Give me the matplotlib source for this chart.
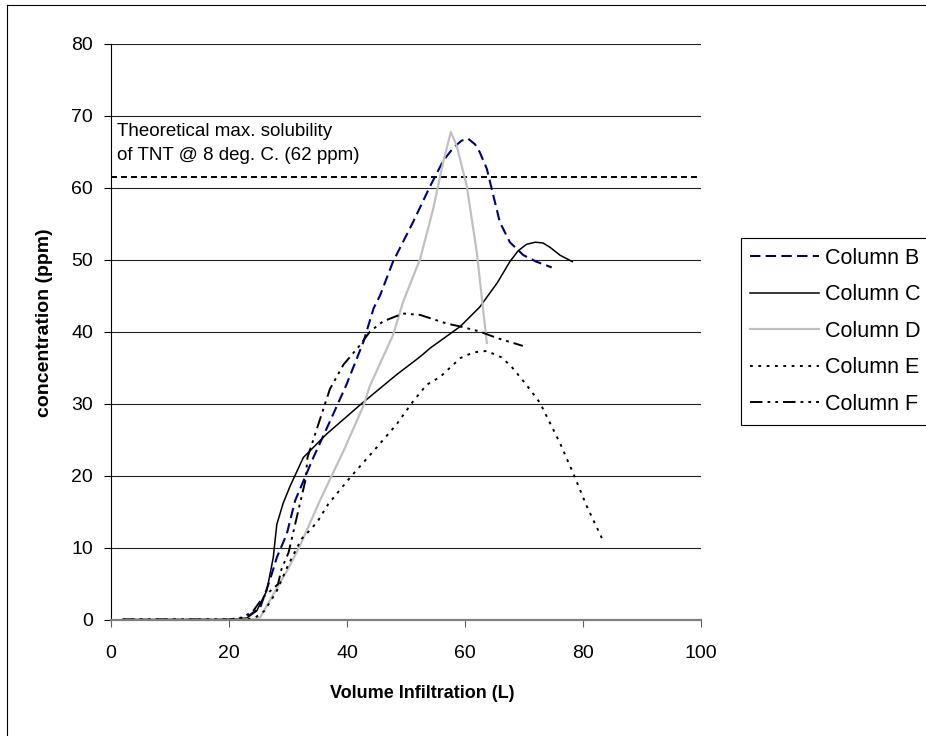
import matplotlib
matplotlib.use("Agg")
import matplotlib.pyplot as plt
from matplotlib.lines import Line2D
from matplotlib.patches import Rectangle

plt.rcParams['font.family'] = ['Liberation Sans', 'DejaVu Sans']
plt.rcParams['lines.scale_dashes'] = False

# ---------------- data ----------------
b_x = [2, 6, 10, 15, 20, 22, 23, 25.3, 26.9, 28.1, 29.8, 31.2, 34.3, 37.1, 39.9, 42.8, 44.5,
       45.6, 47.8, 51.2, 54.1, 56.3, 58.0, 59.4, 60.5, 61.7, 62.5, 63.7, 64.8, 65.9, 67.6,
       69.9, 72.1, 74.7]
b_y = [0, 0, 0, 0, 0, 0.1, 0.3, 1.7, 5.4, 8.6, 11.9, 16.5, 22.5, 27.5, 32.6, 38.6, 43.2,
       45.0, 49.7, 55.2, 60.2, 63.7, 65.5, 66.5, 66.8, 66.0, 64.9, 62.6, 58.9, 55.2, 52.4,
       50.6, 49.7, 48.9]

c_x = [2, 10, 20, 23, 24.7, 26.4, 27.5, 28.1, 29.2, 30.4, 32.6, 36.6, 42.5, 48.4, 52.4,
       54.1, 59.2, 62.5, 65.5, 67.6, 69.0, 70.4, 71.9, 73.2, 74.4, 76.1, 78.2]
c_y = [0, 0, 0, 0.2, 1.2, 4.0, 8.6, 13.2, 16.2, 18.6, 22.5, 25.8, 30.0, 34.0, 36.5,
       37.7, 40.7, 43.4, 46.8, 49.7, 51.2, 52.1, 52.4, 52.3, 51.7, 50.6, 49.7]

d_x = [2, 10, 20, 24, 25.3, 27.5, 30, 32, 35.4, 39.4, 42.8, 43.9, 47.8, 49.5, 52.4, 54.6,
       56.3, 57.6, 58.6, 60.3, 62.0, 63.7]
d_y = [0, 0, 0, 0, 0.3, 3.5, 7.0, 10.2, 16.5, 23.4, 29.7, 32.5, 39.5, 44.1, 50.1, 57.0,
       63.5, 67.7, 65.8, 60.2, 51.0, 38.4]

e_x = [2, 10, 20, 23, 24.5, 26, 28, 30, 32.3, 33.6, 35.0, 36.8, 38.2, 40.5, 44.5, 48.4,
       51.2, 53.5, 55.8, 59.2, 61.4, 63.7, 66.2, 67.9, 70.4, 72.7, 74.4, 76.1, 78.4, 80.6, 83.2]
e_y = [0, 0, 0, 0, 0.3, 1.2, 3.8, 7.5, 11.2, 12.3, 13.6, 16.0, 17.4, 19.7, 23.4, 27.1,
       30.3, 32.6, 33.7, 36.3, 37.1, 37.3, 36.4, 35.1, 32.6, 30.1, 27.3, 24.5, 20.2, 15.8, 11.3]

f_x = [2, 10, 20, 22.4, 24.1, 25.8, 28.3, 28.9, 30.1, 31.2, 32.0, 33.0, 33.3, 35.1, 37.1,
       39.4, 42.2, 43.9, 46.1, 49.5, 52.4, 56.9, 59.2, 62.5, 65.4, 69.8]
f_y = [0, 0, 0, 0.3, 1.2, 3.1, 4.9, 7.0, 9.3, 13.2, 16.0, 19.5, 22.5, 27.0, 32.0,
       35.4, 38.1, 40.0, 41.4, 42.5, 42.3, 41.1, 40.7, 40.0, 39.1, 38.0]

series_labels = ['Column B', 'Column C', 'Column D', 'Column E', 'Column F']
solubility_ppm = 61.4
solubility_text = 'Theoretical max. solubility\nof TNT @ 8 deg. C. (62 ppm)'
x_ticks = [0, 20, 40, 60, 80, 100]
y_ticks = [0, 10, 20, 30, 40, 50, 60, 70, 80]

# ---------------- figure ----------------
W, H = 926, 736
fig = plt.figure(figsize=(W / 100, H / 100), dpi=100)
ax = fig.add_axes([111 / W, 1 - 619.5 / H, 590 / W, 576 / H])
ax.set_xlim(0, 100)
ax.set_ylim(0, 80)

for yv in y_ticks[1:]:
    ax.axhline(yv, color='#222222', lw=0.8, zorder=1)

ax.axhline(solubility_ppm, color='black', lw=1.4, ls=(0, (4.3, 2.9)), zorder=2)

styles = [
    dict(color='#000080', lw=1.5, ls=(0, (7.5, 3.8))),
    dict(color='black', lw=1.1, ls='-'),
    dict(color='#C0C0C0', lw=1.6, ls='-'),
    dict(color='black', lw=1.4, ls=(0, (2.0, 4.0))),
    dict(color='black', lw=1.4, ls=(0, (9.0, 3.6, 2.0, 3.6, 2.0, 3.6))),
]
data = [(b_x, b_y), (c_x, c_y), (d_x, d_y), (e_x, e_y), (f_x, f_y)]
handles = []
for (xs, ys), st, lab in zip(data, styles, series_labels):
    ln, = ax.plot(xs, ys, label=lab, zorder=3, **st)
    handles.append(ln)

ax.text(1.0, 66.1, solubility_text, fontsize=13.5, va='center', ha='left',
        linespacing=1.5, zorder=4)

ax.spines['top'].set_visible(False)
ax.spines['right'].set_visible(False)
ax.spines['left'].set_color('black')
ax.spines['left'].set_linewidth(0.8)
ax.spines['bottom'].set_color('#808080')
ax.spines['bottom'].set_linewidth(1.6)
ax.spines['bottom'].set_zorder(5)

ax.set_xticks(x_ticks)
ax.set_yticks(y_ticks)
ax.tick_params(axis='y', direction='out', length=5, width=0.8, pad=8, labelsize=14, color='black')
ax.tick_params(axis='x', direction='out', length=5, width=0.8, pad=13, labelsize=14, color='#606060')

ax.set_xlabel('Volume Infiltration (L)', fontsize=13, fontweight='bold', labelpad=18)
ax.xaxis.set_label_coords((422 - 111) / 590, -(693 - 619.5) / 576, transform=ax.transAxes)
ax.set_ylabel('concentration (ppm)', fontsize=14, fontweight='bold')
ax.yaxis.set_label_coords(-(111 - 45) / 590, (619.5 - 323) / 576, transform=ax.transAxes)
ax.xaxis.label.set_va('center')
ax.yaxis.label.set_va('center')

# legend box (clipped by right edge of figure as in reference)
fig.add_artist(Rectangle((741 / W, 1 - 425 / H), (1000 - 741) / W, (425 - 238) / H,
                         transform=fig.transFigure, facecolor='white', edgecolor='black',
                         lw=0.8, zorder=5))
leg = fig.legend(handles=handles, loc='upper left', bbox_to_anchor=(750 / W, 1 - 248 / H),
                 bbox_transform=fig.transFigure, frameon=False, borderpad=0,
                 borderaxespad=0, fontsize=15.5, handlelength=3.2, handletextpad=0.28,
                 labelspacing=0.72)
leg.set_zorder(6)

# outer chart border (left and top edges visible)
fig.add_artist(Line2D([7 / W, 7 / W], [0, 1 - 5 / H], transform=fig.transFigure,
                      color='black', lw=0.8))
fig.add_artist(Line2D([7 / W, 1], [1 - 5 / H, 1 - 5 / H], transform=fig.transFigure,
                      color='black', lw=0.8))

fig.savefig('out.png', dpi=100)
